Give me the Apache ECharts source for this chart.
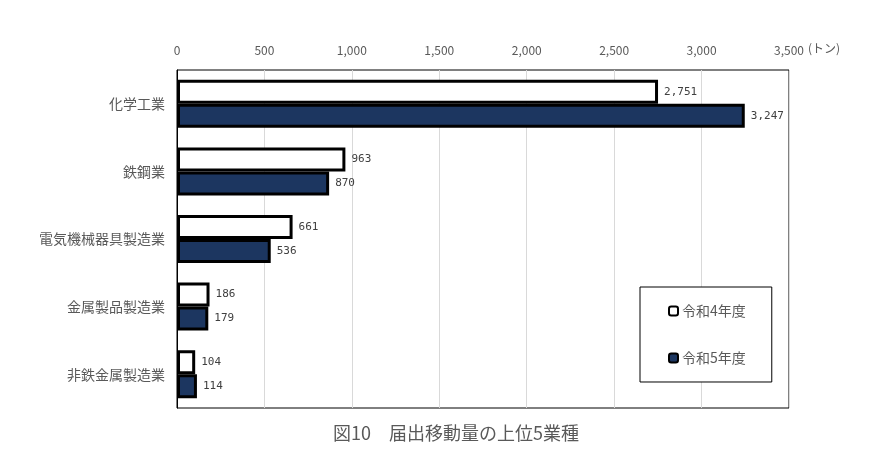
<!DOCTYPE html>
<html><head><meta charset="utf-8">
<script src="https://cdn.jsdelivr.net/npm/echarts@6/dist/echarts.min.js"></script>
<style>html,body{margin:0;padding:0;background:#fff}#c{width:875px;height:451px}</style>
</head><body><div id="c"></div>
<script>
const categories = ['化学工業','鉄鋼業','電気機械器具製造業','金属製品製造業','非鉄金属製造業'];
const seriesNames = ['令和4年度','令和5年度'];
const r4Values = [2751, 963, 661, 186, 104];
const r5Values = [3247, 870, 536, 179, 114];
const titleText = '図10　届出移動量の上位5業種';
const unitText = '(トン)';

const chart = echarts.init(document.getElementById('c'));
const jp = '"Noto Sans CJK JP", sans-serif';
const labelCfg = {
  show: true, position: 'right', distance: 6,
  fontFamily: '"DejaVu Sans Mono", monospace', fontSize: 11, color: '#404040',
  formatter: p => p.value.toLocaleString('en-US')
};
chart.setOption({
  animation: false,
  title: {
    text: titleText, left: 328, bottom: 4,
    textStyle: { fontFamily: jp, fontSize: 18, fontWeight: 'normal', color: '#595959' }
  },
  graphic: [{
    type: 'text', left: 808, top: 42,
    style: { text: unitText, fontFamily: jp, fontSize: 12, fill: '#595959' }
  }],
  legend: {
    orient: 'vertical', left: 640, top: 287,
    padding: [17, 26, 17, 28],
    itemGap: 33, itemWidth: 9, itemHeight: 9,
    backgroundColor: '#fff', borderColor: '#000', borderWidth: 1,
    textStyle: { fontFamily: jp, fontSize: 14, color: '#595959', padding: [0, 0, 0, -1] },
    data: seriesNames
  },
  grid: {
    left: 177, right: 86, top: 70, bottom: 43,
    show: true, borderColor: '#000', borderWidth: 1, backgroundColor: 'transparent'
  },
  xAxis: {
    type: 'value', position: 'top', min: 0, max: 3500, interval: 500,
    axisLine: { show: false }, axisTick: { show: false },
    splitLine: { lineStyle: { color: '#d9d9d9', width: 1 } },
    axisLabel: {
      margin: 14, fontFamily: jp, fontSize: 12, color: '#595959',
      formatter: v => v.toLocaleString('en-US')
    }
  },
  yAxis: {
    type: 'category', inverse: true, data: categories,
    axisLine: { show: true, lineStyle: { color: '#000' } }, axisTick: { show: false },
    axisLabel: { margin: 12, fontFamily: jp, fontSize: 14, color: '#595959' }
  },
  series: [
    {
      name: seriesNames[0], type: 'bar', data: r4Values,
      barWidth: 24, barGap: '0%',
      itemStyle: { color: '#ffffff', borderColor: '#000', borderWidth: 3 },
      label: labelCfg
    },
    {
      name: seriesNames[1], type: 'bar', data: r5Values,
      barWidth: 24, barGap: '0%',
      itemStyle: { color: '#1c3660', borderColor: '#000', borderWidth: 3 },
      label: labelCfg
    }
  ]
});
</script></body></html>
